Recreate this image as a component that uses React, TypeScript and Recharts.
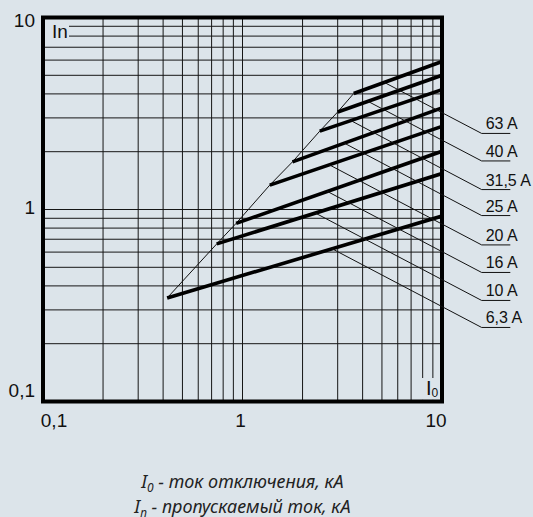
import React from 'react';
import {
  ComposedChart,
  Line,
  XAxis,
  YAxis,
  CartesianGrid,
  ReferenceLine,
  ReferenceArea,
} from 'recharts';

const BG = '#dce4ea';
const SANS = '"Liberation Sans", Arial, sans-serif';

// log grid: 0.1..1..10
const gridTicks = [0.1, 0.2, 0.3, 0.4, 0.5, 0.6, 0.7, 0.8, 0.9, 1, 2, 3, 4, 5, 6, 7, 8, 9, 10];
const decadeLabels: Record<string, string> = { '0.1': '0,1', '1': '1', '10': '10' };

// fuse ratings, top to bottom
const ratings = ['63 A', '40 A', '31,5 A', '25 A', '20 A', '16 A', '10 A', '6,3 A'];
// I0 / In where each characteristic starts (on the thin envelope line)
const startI0 = [3.61, 3.0, 2.44, 1.78, 1.37, 0.929, 0.743, 0.419];
const startIn = [4.02, 3.22, 2.56, 1.77, 1.34, 0.847, 0.662, 0.346];
// right end at I0 = 10 kA
const endI0 = [10, 10, 10, 10, 10, 10, 10, 10];
const endIn = [5.9, 5.0, 4.21, 3.38, 2.71, 2.01, 1.54, 0.925];
// where the leader line leaves each characteristic
const leaderI0 = [5.14, 4.25, 3.48, 3.23, 2.72, 2.65, 2.31, 2.8];
const leaderIn = [4.59, 3.66, 2.91, 2.22, 1.71, 1.245, 0.96, 0.626];
// label underline height and its extent on the I0 scale
const labelIn = [2.49, 1.79, 1.27, 0.93, 0.654, 0.47, 0.336, 0.243];
const labelI0 = [15.8, 22];

const yTickDy: Record<string, number> = { '10': 2.5, '1': -3, '0.1': -12 };
const xTickDx: Record<string, number> = { '0.1': 11, '1': -2, '10': -6 };

function YTick(props: any) {
  const { x, y, payload } = props;
  const key = String(payload.value);
  const text = decadeLabels[key];
  if (!text) return <g />;
  return (
    <text x={x} y={y + 7 + (yTickDy[key] ?? 0)} textAnchor="end" fontSize={19} fontFamily={SANS} fill="#111">
      {text}
    </text>
  );
}

function XTick(props: any) {
  const { x, y, payload } = props;
  const key = String(payload.value);
  const text = decadeLabels[key];
  if (!text) return <g />;
  return (
    <text x={x + (xTickDx[key] ?? 0)} y={y + 17.5} textAnchor="middle" fontSize={19} fontFamily={SANS} fill="#111">
      {text}
    </text>
  );
}

export default function App() {
  const envelope = startI0.map((x, i) => ({ x, y: startIn[i] }));

  return (
    <div style={{ position: 'relative', width: 533, height: 517, background: BG, overflow: 'hidden' }}>
      <style>{`body{margin:0;background:${BG}}`}</style>
      <ComposedChart width={533} height={517} margin={{ top: 17.5, right: 91, bottom: 85.5, left: 0 }}>
        <CartesianGrid stroke="#161616" strokeWidth={1} />
        <XAxis
          dataKey="x"
          type="number"
          scale="log"
          domain={[0.1, 10]}
          allowDataOverflow
          ticks={gridTicks}
          interval={0}
          height={30}
          axisLine={false}
          tickLine={false}
          tick={(p: any) => <XTick {...p} />}
        />
        <YAxis
          type="number"
          scale="log"
          domain={[0.1, 10]}
          allowDataOverflow
          ticks={gridTicks}
          interval={0}
          width={43}
          axisLine={false}
          tickLine={false}
          tick={(p: any) => <YTick {...p} />}
        />

        {/* clear the grid behind the axis names */}
        <ReferenceArea
          x1={0.1}
          x2={0.135}
          y1={7.6}
          y2={9.7}
          fill={BG}
          fillOpacity={1}
          stroke="none"
          ifOverflow="visible"
          label={(p: any) => (
            <text x={p.viewBox.x + 9} y={p.viewBox.y + 17.5} fontSize={19} fontFamily={SANS} fill="#111">
              In
            </text>
          )}
        />
        <ReferenceArea
          x1={7.58}
          x2={9.78}
          y1={0.102}
          y2={0.1326}
          fill={BG}
          fillOpacity={1}
          stroke="none"
          ifOverflow="visible"
          label={(p: any) => (
            <text x={p.viewBox.x + 8} y={p.viewBox.y + 17} fontSize={20} fontFamily={SANS} fill="#111">
              I<tspan fontSize={12} dy={2}>0</tspan>
            </text>
          )}
        />

        {/* thin envelope through the start points */}
        <Line
          data={envelope}
          dataKey="y"
          type="linear"
          stroke="#111"
          strokeWidth={1}
          dot={false}
          activeDot={false}
          isAnimationActive={false}
        />

        {ratings.map((r, i) => (
          <Line
            key={r}
            data={[
              { x: startI0[i], y: startIn[i] },
              { x: endI0[i], y: endIn[i] },
            ]}
            dataKey="y"
            type="linear"
            stroke="#000"
            strokeWidth={3.6}
            dot={false}
            activeDot={false}
            isAnimationActive={false}
          />
        ))}

        {ratings.map((r, i) => (
          <ReferenceLine
            key={'lead' + r}
            segment={[
              { x: leaderI0[i], y: leaderIn[i] },
              { x: labelI0[0], y: labelIn[i] },
            ]}
            stroke="#111"
            strokeWidth={1}
            ifOverflow="visible"
          />
        ))}
        {ratings.map((r, i) => (
          <ReferenceLine
            key={'ul' + r}
            segment={[
              { x: labelI0[0], y: labelIn[i] },
              { x: labelI0[1], y: labelIn[i] },
            ]}
            stroke="#111"
            strokeWidth={1}
            ifOverflow="visible"
            label={(p: any) => (
              <text x={p.viewBox.x + 4} y={p.viewBox.y - 4} fontSize={16} fontFamily={SANS} fill="#111">
                {r}
              </text>
            )}
          />
        ))}

        {/* heavy frame */}
        <ReferenceArea x1={0.1} x2={10} y1={0.1} y2={10} fill="none" stroke="#000" strokeWidth={4} ifOverflow="visible" />
      </ComposedChart>

      <div
        style={{
          position: 'absolute',
          top: 470,
          left: 0,
          width: 485,
          textAlign: 'center',
          fontFamily: '"Noto Sans", sans-serif',
          fontStyle: 'italic',
          fontSize: 18,
          lineHeight: '22px',
          color: '#222',
        }}
      >
        <div>
          I<span style={{ fontSize: 12, position: 'relative', top: 4 }}>0</span> - ток отключения, кА
        </div>
        <div>
          I<span style={{ fontSize: 12, position: 'relative', top: 4 }}>п</span> - пропускаемый ток, кА
        </div>
      </div>
    </div>
  );
}
